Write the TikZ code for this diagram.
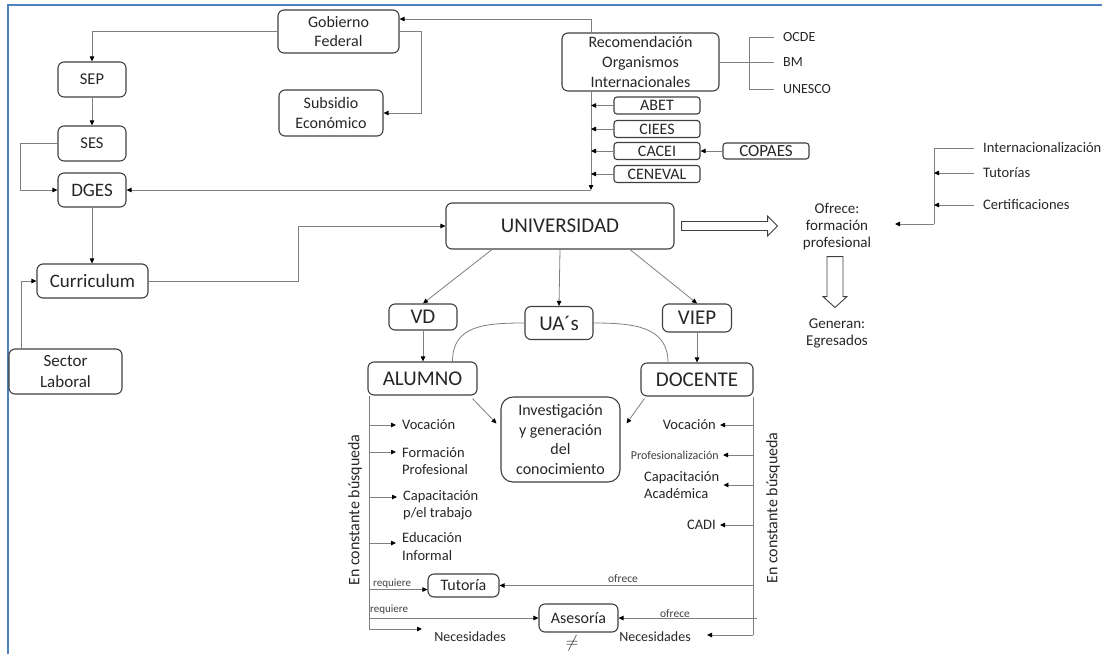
\documentclass[tikz,border=0pt]{standalone}
\usepackage{fontspec}
\setmainfont{Carlito}
\usetikzlibrary{arrows.meta}
\definecolor{boxgray}{HTML}{3F3F3F}
\definecolor{linegray}{HTML}{7F7F7F}
\definecolor{textgray}{HTML}{262626}
\definecolor{frameblue}{HTML}{4F81BD}
\newcommand{\fsz}[2]{\fontsize{#1}{#2}\selectfont}

\begin{document}
\begin{tikzpicture}[x=1pt,y=-1pt]
\tikzstyle{mybox} = [draw=boxgray, line width=1.1pt, rounded corners=6pt, inner sep=0pt, align=center, text=textgray]
\tikzstyle{mysmallbox} = [mybox, rounded corners=3pt, minimum width=86, minimum height=17, font=\fsz{16}{19}]
\tikzstyle{mytext} = [inner sep=0pt, text=textgray]
\tikzstyle{myline} = [draw=linegray, line width=0.8pt]
\tikzstyle{myarrow} = [myline, -{Triangle[length=5pt,width=4.5pt,color=black]}]
\tikzstyle{mydouble} = [draw=boxgray, line width=0.9pt, line join=miter]

\useasboundingbox (0,0) rectangle (1102,654);
\draw[frameblue, line width=2pt] (8,654) -- (8,5) -- (1102,5);

% government side
\node[mybox, minimum width=121, minimum height=43, font=\fsz{16}{19.5}] (gobierno) at (338.5,31.5) {Gobierno\\Federal};
\node[mybox, minimum width=104, minimum height=46, font=\fsz{16}{19.5}] (subsidio) at (331,113) {Subsidio\\Económico};
\node[mybox, minimum width=68, minimum height=35, font=\fsz{16.5}{19}] (sep) at (92,79.5) {SEP};
\node[mybox, minimum width=68, minimum height=35, font=\fsz{16.5}{19}] (ses) at (92,143.5) {SES};
\node[mybox, minimum width=68, minimum height=34, font=\fsz{19}{22}] (dges) at (92,190) {DGES};
\node[mybox, minimum width=111, minimum height=34, font=\fsz{19}{22}] (curriculum) at (92.5,281) {Curriculum};
\node[mybox, minimum width=113, minimum height=45, font=\fsz{17}{20.5}] (sector) at (65.5,371.5) {Sector\\Laboral};

% international side
\node[mybox, minimum width=157, minimum height=58, font=\fsz{16}{20}] (reco) at (640.5,62) {Recomendación\\Organismos\\Internacionales};
\foreach \n/\t/\y in {ocde/OCDE/37, bm/BM/62, unesco/UNESCO/89}
  \node[mytext, anchor=west, font=\fsz{14}{17}] (\n) at (783,\y) {\t};
\foreach \n/\t/\y in {abet/ABET/105.5, ciees/CIEES/129, cacei/CACEI/151, ceneval/CENEVAL/174}
  \node[mysmallbox] (\n) at (657,\y) {\t};
\node[mysmallbox, minimum height=16, font=\fsz{17}{20}] (copaes) at (766,151) {COPAES};

% university
\node[mybox, minimum width=228, minimum height=46, font=\fsz{21}{25}] (univ) at (560,226) {UNIVERSIDAD};
\node[mytext, align=center, font=\fsz{15}{17}] (ofrece) at (837,227) {Ofrece:\\formación\\profesional};
\node[mytext, align=center, font=\fsz{15}{17}] (generan) at (837,333.5) {Generan:\\Egresados};
\foreach \n/\t/\y in {intl/Internacionalización/148, tuto/Tutorías/173, certi/Certificaciones/205}
  \node[mytext, anchor=west, font=\fsz{14.5}{17}] (\n) at (983,\y) {\t};

\node[mybox, minimum width=68, minimum height=26, font=\fsz{21}{25}] (vd) at (423,317) {VD};
\node[mybox, minimum width=68, minimum height=33, font=\fsz{21}{25}] (uas) at (559,323) {UA´s};
\node[mybox, minimum width=69, minimum height=28, font=\fsz{21}{25}] (viep) at (697,318) {VIEP};
\node[mybox, minimum width=109, minimum height=33, font=\fsz{21}{25}] (alumno) at (422.5,378.5) {ALUMNO};
\node[mybox, minimum width=112, minimum height=33, font=\fsz{21}{25}] (docente) at (697,379.5) {DOCENTE};
\node[mybox, rounded corners=12pt, minimum width=119, minimum height=85, font=\fsz{16}{19.5}] (inv) at (560.5,439.5) {Investigación\\y generación\\del\\conocimiento};

% alumno side
\node[mytext, anchor=west, font=\fsz{14.5}{17.5}] (vocal) at (402,425) {Vocación};
\node[mytext, anchor=west, align=left, font=\fsz{14.5}{17.5}] (formal) at (402,461) {Formación\\Profesional};
\node[mytext, anchor=west, align=left, font=\fsz{14.5}{17.5}] (capal) at (403,505) {Capacitación\\p/el trabajo};
\node[mytext, anchor=west, align=left, font=\fsz{14.5}{17.5}] (educal) at (402,546.5) {Educación\\Informal};
\node[mytext, rotate=90, font=\fsz{16}{19}] (busqal) at (355,510) {En constante búsqueda};

% docente side
\node[mytext, anchor=east, font=\fsz{14.5}{17.5}] (vocad) at (716,425) {Vocación};
\node[mytext, anchor=east, font=\fsz{12}{14}, text=boxgray] (profd) at (719,455) {Profesionalización};
\node[mytext, anchor=west, align=left, font=\fsz{14.5}{17.5}] (capad) at (644,485) {Capacitación\\Académica};
\node[mytext, anchor=east, font=\fsz{14.5}{17.5}] (cadid) at (716,525) {CADI};
\node[mytext, rotate=90, font=\fsz{16}{19}] (busqad) at (773,508) {En constante búsqueda};

% tutoria / asesoria
\node[mybox, minimum width=71, minimum height=23, font=\fsz{16}{19}] (tutoria) at (463.5,585.5) {Tutoría};
\node[mybox, minimum width=79, minimum height=28, font=\fsz{16}{19}] (asesoria) at (578.5,618) {Asesoría};
\node[mytext, font=\fsz{16}{19}] (distinto) at (572,643) {$\neq$};
\node[mytext, font=\fsz{14}{17}] (necal) at (470,637) {Necesidades};
\node[mytext, font=\fsz{14}{17}] (necad) at (655,637) {Necesidades};
\node[mytext, anchor=west, font=\fsz{11}{13}, text=boxgray] (req1) at (373,584) {requiere};
\node[mytext, anchor=west, font=\fsz{11}{13}, text=boxgray] (req2) at (370,610) {requiere};
\node[mytext, font=\fsz{11.5}{13}, text=boxgray] (ofr1) at (623,579) {ofrece};
\node[mytext, font=\fsz{11.5}{13}, text=boxgray] (ofr2) at (675,614) {ofrece};

% connectors top
\coordinate (c1) at (591,19);
\coordinate (c2) at (591,190);
\coordinate (kx) at (21,0);
\draw[myarrow] (reco.north -| c1) -- (c1) -- (gobierno.east |- c1);
\draw[myarrow] (gobierno.west) -| (sep.north);
\draw[myarrow] (gobierno.east) -- ++(22,0) |- (subsidio.east);
\draw[myarrow] (sep) -- (ses);
\draw[myarrow] (ses.west) -- ++(-37,0) |- (dges.west);
\draw[myarrow] (reco.south -| c2) -- (c2);
\draw[myarrow] (c2) -- (dges.east);
\foreach \n in {abet,ciees,cacei,ceneval}
  \draw[myarrow] (\n.west) -- (\n.west -| c2);
\draw[myarrow] (copaes.west) -- (cacei.east);
\draw[myline] (reco.east) -- ([xshift=-9pt]bm.west);
\draw[myline] ([xshift=-9pt]ocde.west) -| ([xshift=-34pt]unesco.west) -- ([xshift=-9pt]unesco.west);
\draw[myarrow] (dges.south) -- (dges.south |- curriculum.north);
\draw[myarrow] (sector.north -| kx) |- (curriculum.west);
\draw[myarrow] (curriculum.east) -- ++(150,0) |- (univ.west);

% university outputs
\draw[mydouble] (univ.east) ++(7,-4.5) -- ++(86,0) -- ++(0,-5.5) -- ++(10,10) -- ++(-10,10) -- ++(0,-5.5) -- ++(-86,0) -- cycle;
\draw[mydouble] ([yshift=-6pt]ofrece.south) ++(-10,0) -- ++(0,40) -- ++(-4,0) -- ++(12,11) -- ++(12,-11) -- ++(-4,0) -- ++(0,-40) -- cycle;
\coordinate (rk) at (934,224);
\draw[myline] ([xshift=-9pt]intl.west) -| (rk);
\foreach \n in {tuto,certi}
  \draw[myarrow] ([xshift=-9pt]\n.west) -- (rk |- \n.west);
\draw[myarrow] (rk) -- ++(-39,0);

\draw[myarrow] ([xshift=-68pt]univ.south) -- (vd.north);
\draw[myarrow] (univ.south) -- (uas.north);
\draw[myarrow] ([xshift=70pt]univ.south) -- (viep.north);
\draw[myarrow] (vd.south) -- (vd.south |- alumno.north);
\draw[myarrow] (viep.south) -- (viep.south |- docente.north);
\draw[myline] ([xshift=30pt]alumno.north) .. controls +(0,-36) and +(-40,0) .. (uas.west);
\draw[myline] (uas.east) .. controls +(40,0) and +(0,-36) .. ([xshift=-29pt]docente.north);
\draw[myarrow] ([xshift=-5pt,yshift=-3pt]alumno.south east) -- ([xshift=-4pt,yshift=16pt]inv.west);
\draw[myarrow] ([xshift=4pt,yshift=-2pt]docente.south west) -- ([xshift=6pt,yshift=16pt]inv.east);

% constant search lines
\coordinate (lb) at (369,629);
\coordinate (rb) at (753,635);
\coordinate (rb2) at (757,618);
\draw[myline] (alumno.south -| lb) -- (lb);
\draw[myline] (docente.south -| rb) -- (rb);
\foreach \n/\s in {vocal/0, formal/9, capal/8, educal/3.5} {
  \coordinate (tip) at ([yshift=\s pt]\n.west);
  \draw[myarrow] (lb |- tip) -- ([xshift=-6pt]tip);
}
\foreach \n in {vocad, profd, capad, cadid}
  \draw[myarrow] (rb |- \n.east) -- ([xshift=4pt]\n.east);
\coordinate (t1) at ([yshift=-4pt]tutoria.west);
\draw[myarrow] (lb |- t1) -- (t1);
\draw[myarrow] (rb |- tutoria.east) -- (tutoria.east);
\draw[myarrow] (lb |- asesoria.west) -- (asesoria.west);
\draw[myarrow] (rb2) -- (asesoria.east);
\draw[myarrow] (lb) -- ++(53,0);
\draw[myarrow] (rb) -- ++(-46,0);

\end{tikzpicture}
\end{document}
